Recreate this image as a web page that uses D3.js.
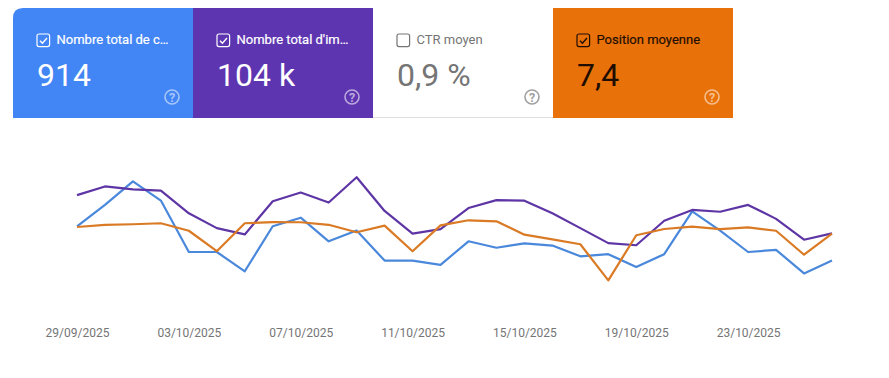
<!DOCTYPE html>
<html>
<head>
<meta charset="utf-8">
<script src="https://cdn.jsdelivr.net/npm/d3@7"></script>
<style>
  html, body { margin: 0; padding: 0; background: #fff; }
  svg { display: block; font-family: Roboto, sans-serif; }
  .tick text { font-family: Roboto, sans-serif; }
</style>
</head>
<body>
<svg id="chart"></svg>
<script>
var days = ["29/09/2025","30/09/2025","01/10/2025","02/10/2025","03/10/2025","04/10/2025","05/10/2025",
  "06/10/2025","07/10/2025","08/10/2025","09/10/2025","10/10/2025","11/10/2025","12/10/2025",
  "13/10/2025","14/10/2025","15/10/2025","16/10/2025","17/10/2025","18/10/2025","19/10/2025",
  "20/10/2025","21/10/2025","22/10/2025","23/10/2025","24/10/2025","25/10/2025","26/10/2025"];
var tickLabels = ["29/09/2025","03/10/2025","07/10/2025","11/10/2025","15/10/2025","19/10/2025","23/10/2025"];

var clicks = [40,50,61,52,28,28,19,40,44,33,38,24,24,22,33,30,32,31,26,27,21,27,47,38,28,29,18,24];
var impressions = [4430,4760,4650,4600,3740,3180,2940,4200,4530,4150,5110,3830,2970,3140,
  3940,4240,4220,3740,3180,2610,2530,3460,3870,3800,4060,3530,2740,2980];
var positions = [7.0,6.8,6.75,6.66,7.34,9.2,6.66,6.55,6.57,6.8,7.48,6.88,9.2,6.85,
  6.39,6.48,7.7,8.12,8.57,11.85,7.75,7.18,6.97,7.2,7.03,7.34,9.52,7.6];

var tileLabels = ["Nombre total de c…","Nombre total d'im…","CTR moyen","Position moyenne"];
var tileValues = ["914","104 k","0,9 %","7,4"];
var tileChecked = [true,true,false,true];
var tileFill = ["#4285f4","#5e35b1","#ffffff","#e8710a"];
var tileText = ["#ffffff","#ffffff","#757575","#1f0e00"];
var helpColor = ["#a6c6fa","#bbaadd","#a0a0a0","#f6c08f"];

var width = 889, height = 378;
var svg = d3.select("#chart").attr("width", width).attr("height", height);

/*
 *  Metric tiles
 */
var tileX = d3.scaleBand().domain(d3.range(4)).range([13, 733]);
var tileTop = 8, tileH = 110;

// blue tile has only its top left corner rounded
function tilePath(i) {
  var x = tileX(i), w = tileX.bandwidth(), r = i == 0 ? 10 : 0;
  return "M" + (x + r) + "," + tileTop + "H" + (x + w) + "V" + (tileTop + tileH) + "H" + x +
    "V" + (tileTop + r) + "Q" + x + "," + tileTop + " " + (x + r) + "," + tileTop + "Z";
}

var tiles = svg.selectAll(".tile")
  .data(d3.range(4))
  .enter()
  .append("g")
  .attr("class", "tile");

tiles.append("path")
  .attr("d", tilePath)
  .attr("fill", function(i) { return tileFill[i]; });

// thin grey edge under the white tile
svg.append("rect")
  .attr("x", 373).attr("y", 117).attr("width", 180).attr("height", 1)
  .attr("fill", "#e0e0e0");

tiles.append("rect")
  .attr("x", function(i) { return tileX(i) + 24; })
  .attr("y", 34)
  .attr("width", 12.6).attr("height", 12.6).attr("rx", 2)
  .attr("fill", "none")
  .attr("stroke", function(i) { return tileText[i]; })
  .attr("stroke-width", 1.2);

tiles.filter(function(i) { return tileChecked[i]; })
  .append("path")
  .attr("d", function(i) {
    var x = tileX(i) + 24;
    return "M" + (x + 3) + ",40.8L" + (x + 5.4) + ",43.2L" + (x + 10) + ",38";
  })
  .attr("fill", "none")
  .attr("stroke", function(i) { return tileText[i]; })
  .attr("stroke-width", 1.4);

tiles.append("text")
  .attr("x", function(i) { return tileX(i) + 43.5; })
  .attr("y", 44)
  .attr("font-size", 13)
  .attr("fill", function(i) { return tileText[i]; })
  .attr("stroke", function(i) { return i == 2 ? "none" : tileText[i]; })
  .attr("stroke-width", 0.2)
  .text(function(i) { return tileLabels[i]; });

tiles.append("text")
  .attr("x", function(i) { return tileX(i) + 24; })
  .attr("y", 86)
  .attr("font-size", 32)
  .attr("fill", function(i) { return tileText[i]; })
  .text(function(i) { return tileValues[i]; });

tiles.append("circle")
  .attr("cx", function(i) { return tileX(i) + 159; })
  .attr("cy", 97)
  .attr("r", 7)
  .attr("fill", "none")
  .attr("stroke", function(i) { return helpColor[i]; })
  .attr("stroke-width", 1.6);

tiles.append("text")
  .attr("x", function(i) { return tileX(i) + 159; })
  .attr("y", 101.5)
  .attr("text-anchor", "middle")
  .attr("font-size", 12.5)
  .attr("font-weight", 700)
  .attr("fill", function(i) { return helpColor[i]; })
  .text("?");

/*
 *  Line chart, one y scale per metric (position axis is inverted)
 */
var x = d3.scalePoint().domain(days).range([77, 832]);
var yClicks = d3.scaleLinear().domain([0, 70]).range([312, 162]);
var yImpressions = d3.scaleLinear().domain([0, 5800]).range([312, 159]);
var yPosition = d3.scaleLinear().domain([0, 14]).range([150, 304]);

var series = [
  { values: clicks, y: yClicks, color: "#4a88dc" },
  { values: impressions, y: yImpressions, color: "#5e35a5" },
  { values: positions, y: yPosition, color: "#da7a24" }
];

svg.selectAll(".line")
  .data(series)
  .enter()
  .append("path")
  .attr("class", "line")
  .attr("fill", "none")
  .attr("stroke", function(d) { return d.color; })
  .attr("stroke-width", 2.2)
  .attr("stroke-linejoin", "round")
  .attr("d", function(d) {
    return d3.line()
      .x(function(v, i) { return x(days[i]); })
      .y(function(v) { return d.y(v); })(d.values);
  });

var axis = svg.append("g")
  .attr("transform", "translate(0,324)")
  .call(d3.axisBottom(x).tickValues(tickLabels).tickSize(0).tickPadding(0));
axis.select(".domain").remove();
axis.selectAll("text")
  .attr("y", 0)
  .attr("dy", "13")
  .attr("fill", "#757575")
  .style("font-size", "12px");
</script>
</body>
</html>
